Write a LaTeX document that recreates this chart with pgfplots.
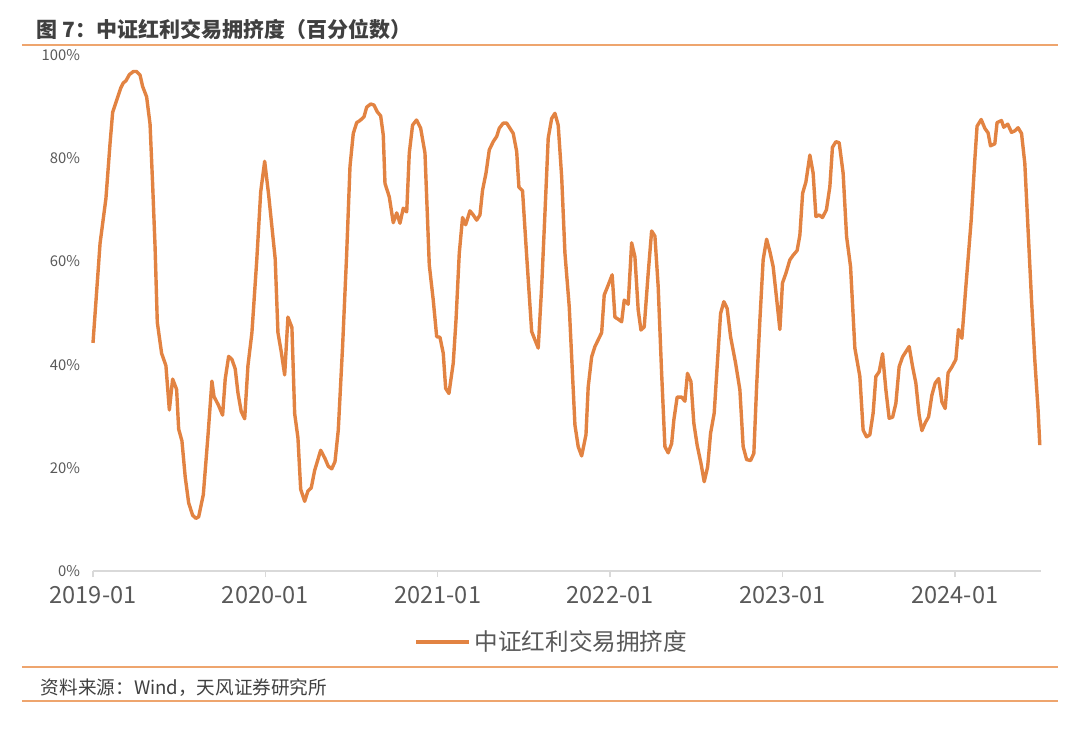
\documentclass[border=0pt]{standalone}
\usepackage{pgfplots}
\usepackage{pgfplotstable}
\pgfplotsset{compat=1.18}
\usepackage{fontspec}
\setmainfont{Noto Sans CJK SC}
\definecolor{lineorange}{RGB}{226,131,66}
\definecolor{ruleorange}{RGB}{238,165,110}
\definecolor{txtgray}{RGB}{89,89,89}
\definecolor{titlegray}{RGB}{64,64,64}
\definecolor{axisgray}{RGB}{217,217,217}

\pgfplotstableread{
x y
0.000 44.2
0.041 63.5
0.075 72.2
0.099 82.9
0.114 88.9
0.137 91.2
0.161 93.6
0.176 94.6
0.191 95.0
0.211 96.2
0.234 96.8
0.253 96.8
0.273 96.1
0.288 93.9
0.311 91.9
0.331 86.6
0.346 74.9
0.360 62.9
0.373 48.2
0.398 42.2
0.423 39.8
0.443 31.2
0.462 37.2
0.485 35.2
0.497 27.5
0.516 25.2
0.535 18.2
0.555 13.2
0.578 10.8
0.597 10.2
0.613 10.5
0.640 14.8
0.667 26.2
0.690 36.8
0.702 33.8
0.727 32.2
0.752 30.2
0.767 37.2
0.787 41.6
0.806 41.0
0.825 39.2
0.841 34.5
0.860 30.9
0.880 29.5
0.899 39.8
0.922 46.2
0.950 60.2
0.973 73.5
0.996 79.4
1.019 72.9
1.057 60.5
1.073 46.2
1.092 42.5
1.112 38.0
1.131 49.2
1.154 47.2
1.170 30.5
1.189 25.8
1.205 15.8
1.228 13.5
1.247 15.5
1.266 16.1
1.286 19.5
1.321 23.4
1.346 21.8
1.365 20.3
1.385 19.8
1.404 21.2
1.423 27.3
1.448 43.5
1.471 60.9
1.491 78.4
1.510 84.8
1.530 86.9
1.549 87.3
1.572 88.0
1.588 89.9
1.611 90.5
1.630 90.3
1.649 89.0
1.669 88.2
1.684 84.5
1.694 75.1
1.719 72.5
1.742 67.5
1.762 69.4
1.781 67.4
1.800 70.3
1.820 69.6
1.835 81.0
1.854 86.4
1.877 87.4
1.901 85.8
1.926 81.0
1.951 59.3
1.974 52.5
1.994 45.4
2.013 45.3
2.032 42.2
2.046 35.4
2.065 34.4
2.090 40.3
2.106 48.6
2.125 61.6
2.144 68.5
2.162 67.1
2.187 69.8
2.206 69.0
2.226 68.0
2.245 69.0
2.260 73.8
2.280 77.1
2.299 81.6
2.322 83.2
2.342 84.2
2.357 85.8
2.380 86.8
2.400 86.8
2.419 85.8
2.438 84.8
2.458 81.3
2.471 74.4
2.492 73.7
2.515 61.6
2.545 46.4
2.564 44.8
2.583 43.2
2.603 55.1
2.622 69.3
2.641 83.9
2.661 87.7
2.680 88.7
2.699 86.4
2.719 76.4
2.738 61.6
2.763 51.2
2.796 28.3
2.815 24.1
2.835 22.3
2.860 26.4
2.873 35.7
2.893 41.5
2.912 43.5
2.931 44.8
2.951 46.2
2.966 53.5
2.989 55.4
3.012 57.4
3.028 49.2
3.047 48.8
3.067 48.3
3.082 52.5
3.105 51.7
3.125 63.6
3.144 60.9
3.163 50.6
3.179 46.7
3.198 47.3
3.221 57.7
3.241 65.9
3.260 64.9
3.279 55.1
3.299 38.3
3.318 24.1
3.337 22.9
3.357 24.7
3.370 29.3
3.389 33.7
3.415 33.7
3.434 32.9
3.449 38.3
3.469 36.7
3.486 28.6
3.505 24.4
3.527 20.9
3.546 17.3
3.566 20.2
3.583 26.7
3.604 30.6
3.621 39.6
3.641 49.9
3.660 52.2
3.679 50.9
3.699 45.4
3.728 40.3
3.753 35.1
3.772 24.1
3.792 21.6
3.815 21.4
3.834 22.8
3.850 35.7
3.869 48.6
3.888 60.3
3.908 64.3
3.927 61.9
3.946 59.0
3.966 52.8
3.985 46.8
4.000 55.8
4.020 57.7
4.043 60.3
4.062 61.2
4.085 62.1
4.101 65.1
4.117 73.2
4.136 75.4
4.159 80.6
4.178 77.1
4.194 68.7
4.213 69.0
4.232 68.5
4.255 70.0
4.275 74.5
4.290 82.1
4.310 83.2
4.329 83.0
4.352 77.1
4.372 64.8
4.395 59.0
4.420 43.2
4.449 37.7
4.468 27.3
4.488 26.0
4.507 26.4
4.526 30.6
4.542 37.7
4.561 38.6
4.581 42.1
4.600 35.1
4.619 29.6
4.639 29.8
4.658 32.5
4.677 39.6
4.697 41.5
4.735 43.5
4.755 39.6
4.774 36.4
4.793 30.2
4.809 27.2
4.828 28.7
4.848 29.9
4.867 34.1
4.886 36.4
4.906 37.3
4.925 32.8
4.944 31.5
4.961 38.4
4.984 39.6
5.006 41.0
5.021 46.8
5.041 45.1
5.064 55.1
5.095 68.0
5.116 79.7
5.129 86.2
5.153 87.5
5.174 85.8
5.193 84.9
5.207 82.4
5.232 82.8
5.245 86.9
5.271 87.3
5.284 86.0
5.307 86.6
5.329 85.0
5.348 85.3
5.367 85.9
5.387 84.8
5.406 79.0
5.426 65.4
5.445 52.5
5.464 40.9
5.483 31.2
5.493 24.4
}\crowding

\begin{document}
\begin{tikzpicture}[x=1pt,y=1pt]
\path[use as bounding box] (-46.5,-78.5) rectangle (493.5,285.5);
% title
\node[anchor=west, inner sep=0, text=titlegray, font=\fontsize{10.5}{12}\selectfont\bfseries] at (-28.4,270.9) {图 7：中证红利交易拥挤度（百分位数）};
\draw[ruleorange, line width=0.8pt] (-35.5,263) -- (482.5,263);
\begin{axis}[
  at={(0,0)}, anchor=south west,
  scale only axis, width=474pt, height=258pt,
  xmin=0, xmax=5.5, ymin=0, ymax=100,
  axis x line*=bottom, axis y line*=left,
  x axis line style={axisgray, line width=0.9pt, -},
  y axis line style={draw=none},
  xtick={0,1,2,3,4,5},
  xticklabels={2019-01,2020-01,2021-01,2022-01,2023-01,2024-01},
  xtick style={axisgray, line width=0.7pt},
  tick align=outside,
  major tick length=3pt,
  ytick={0,20,40,60,80,100},
  ytick style={draw=none},
  yticklabel={\pgfmathprintnumber[assume math mode=true]{\tick}\%},
  yticklabel style={font=\fontsize{7.4}{9}\selectfont, text=txtgray},
  xticklabel style={font=\fontsize{11.8}{14}\selectfont, text=txtgray, yshift=-1pt},
  legend style={at={(0.485,-0.1376)}, anchor=center, draw=none, fill=none,
    font=\fontsize{11.8}{14}\selectfont, text=txtgray, inner sep=0pt},
  legend image code/.code={\draw[#1, line width=1.7pt] (0pt,0pt) -- (26.5pt,0pt);},
  clip=false,
]
\addplot[lineorange, line width=1.7pt, line join=round] table[x=x, y=y] {\crowding};
\addlegendentry{中证红利交易拥挤度}
\end{axis}
\draw[ruleorange, line width=0.7pt] (-35.5,-48) -- (482.5,-48);
\node[anchor=west, inner sep=0, text=titlegray, font=\fontsize{9.3}{11}\selectfont] at (-26.2,-58.2) {资料来源：Wind，天风证券研究所};
\draw[ruleorange, line width=0.7pt] (-35.5,-65) -- (482.5,-65);
\end{tikzpicture}
\end{document}
